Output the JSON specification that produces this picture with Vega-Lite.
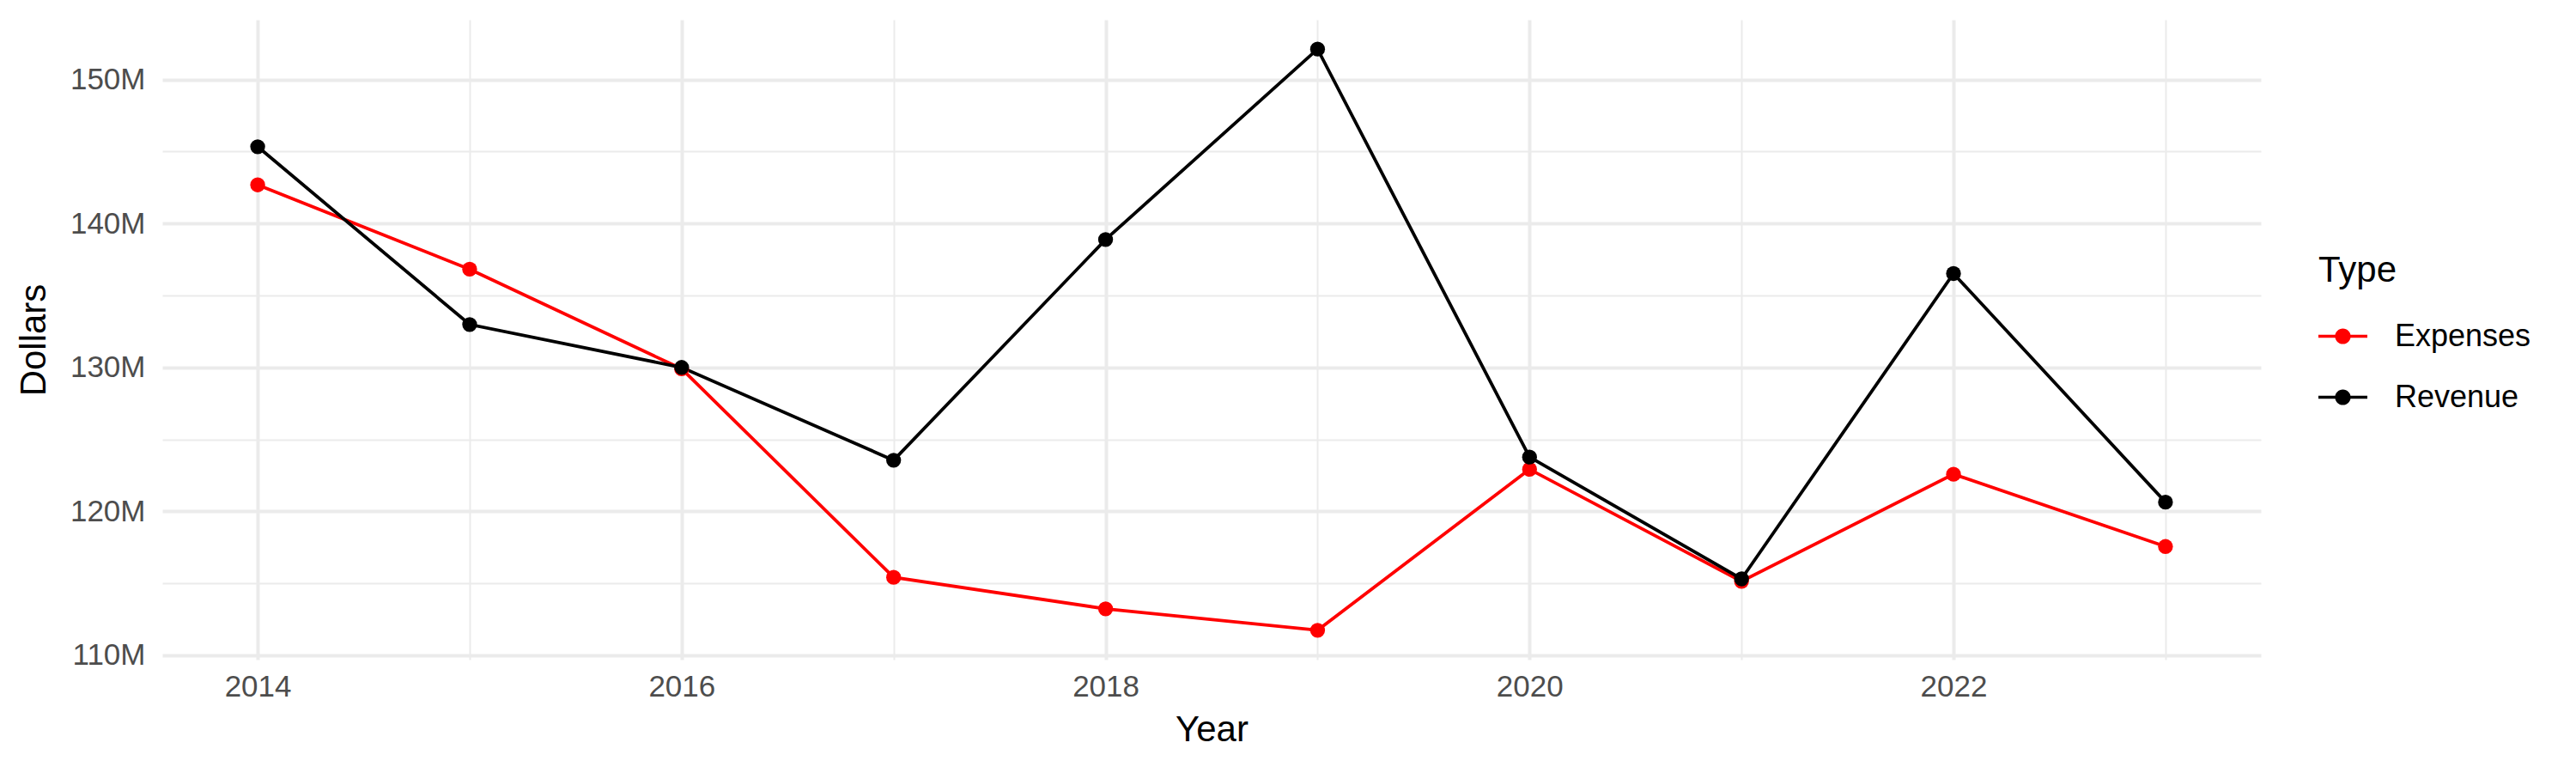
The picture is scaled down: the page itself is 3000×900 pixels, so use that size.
{
  "$schema": "https://vega.github.io/schema/vega-lite/v6.json",
  "width": 2444,
  "height": 745,
  "autosize": {"type": "none"},
  "padding": {"left": 189, "top": 23, "right": 367, "bottom": 132},
  "background": "white",
  "config": {
    "font": "Liberation Sans",
    "view": {"stroke": null},
    "axis": {
      "domain": false,
      "ticks": false,
      "grid": true,
      "gridColor": "#EBEBEB",
      "labelColor": "#4D4D4D",
      "labelFontSize": 35,
      "titleFontSize": 42,
      "titleFontWeight": "normal",
      "titleColor": "#000000"
    }
  },
  "data": {
    "values": [
      {"Year": 2014, "Type": "Expenses", "Dollars": 142680000},
      {"Year": 2015, "Type": "Expenses", "Dollars": 136820000},
      {"Year": 2016, "Type": "Expenses", "Dollars": 129900000},
      {"Year": 2017, "Type": "Expenses", "Dollars": 115420000},
      {"Year": 2018, "Type": "Expenses", "Dollars": 113230000},
      {"Year": 2019, "Type": "Expenses", "Dollars": 111740000},
      {"Year": 2020, "Type": "Expenses", "Dollars": 122920000},
      {"Year": 2021, "Type": "Expenses", "Dollars": 115140000},
      {"Year": 2022, "Type": "Expenses", "Dollars": 122580000},
      {"Year": 2023, "Type": "Expenses", "Dollars": 117560000},
      {"Year": 2014, "Type": "Revenue", "Dollars": 145330000},
      {"Year": 2015, "Type": "Revenue", "Dollars": 132980000},
      {"Year": 2016, "Type": "Revenue", "Dollars": 130000000},
      {"Year": 2017, "Type": "Revenue", "Dollars": 123550000},
      {"Year": 2018, "Type": "Revenue", "Dollars": 138880000},
      {"Year": 2019, "Type": "Revenue", "Dollars": 152110000},
      {"Year": 2020, "Type": "Revenue", "Dollars": 123770000},
      {"Year": 2021, "Type": "Revenue", "Dollars": 115310000},
      {"Year": 2022, "Type": "Revenue", "Dollars": 136520000},
      {"Year": 2023, "Type": "Revenue", "Dollars": 120640000}
    ]
  },
  "resolve": {"axis": {"x": "independent", "y": "independent"}},
  "layer": [
    {
      "mark": {"type": "line", "strokeWidth": 3.8},
      "encoding": {
        "x": {
          "field": "Year",
          "type": "quantitative",
          "scale": {"domain": [2013.55, 2023.45], "nice": false, "zero": false},
          "axis": {
            "orient": "bottom",
            "values": [2014, 2016, 2018, 2020, 2022],
            "format": "d",
            "grid": true,
            "gridWidth": 4,
            "labelPadding": 14,
            "titlePadding": 12
          }
        },
        "y": {
          "field": "Dollars",
          "type": "quantitative",
          "scale": {"domain": [109700000, 154150000], "nice": false, "zero": false},
          "axis": {
            "orient": "left",
            "values": [110000000, 120000000, 130000000, 140000000, 150000000],
            "format": "~s",
            "grid": true,
            "gridWidth": 4,
            "labelPadding": 20,
            "titlePadding": 20
          }
        },
        "color": {
          "field": "Type",
          "type": "nominal",
          "scale": {"domain": ["Expenses", "Revenue"], "range": ["#FF0000", "#000000"]},
          "legend": {
            "title": "Type",
            "orient": "none",
            "legendX": 2511,
            "legendY": 272,
            "padding": 0,
            "titleFontSize": 42,
            "titleFontWeight": "normal",
            "titleColor": "#000000",
            "titlePadding": 26,
            "labelFontSize": 36,
            "labelColor": "#000000",
            "labelOffset": 32,
            "rowPadding": 24,
            "symbolSize": 3249,
            "symbolStrokeWidth": 0,
            "symbolType": "M-1,-0.06H1V0.06H-1Z M0.32,0A0.32,0.32 0 1,1 -0.32,0A0.32,0.32 0 1,1 0.32,0Z"
          }
        }
      }
    },
    {
      "mark": {"type": "point", "filled": true, "size": 300, "opacity": 1},
      "encoding": {
        "x": {
          "field": "Year",
          "type": "quantitative",
          "scale": {"domain": [2013.55, 2023.45], "nice": false, "zero": false},
          "axis": {
            "orient": "bottom",
            "values": [2015, 2017, 2019, 2021, 2023],
            "labels": false,
            "title": null,
            "grid": true,
            "gridWidth": 2
          }
        },
        "y": {
          "field": "Dollars",
          "type": "quantitative",
          "scale": {"domain": [109700000, 154150000], "nice": false, "zero": false},
          "axis": {
            "orient": "left",
            "values": [115000000, 125000000, 135000000, 145000000],
            "labels": false,
            "title": null,
            "grid": true,
            "gridWidth": 2
          }
        },
        "color": {"field": "Type", "type": "nominal"}
      }
    }
  ]
}
